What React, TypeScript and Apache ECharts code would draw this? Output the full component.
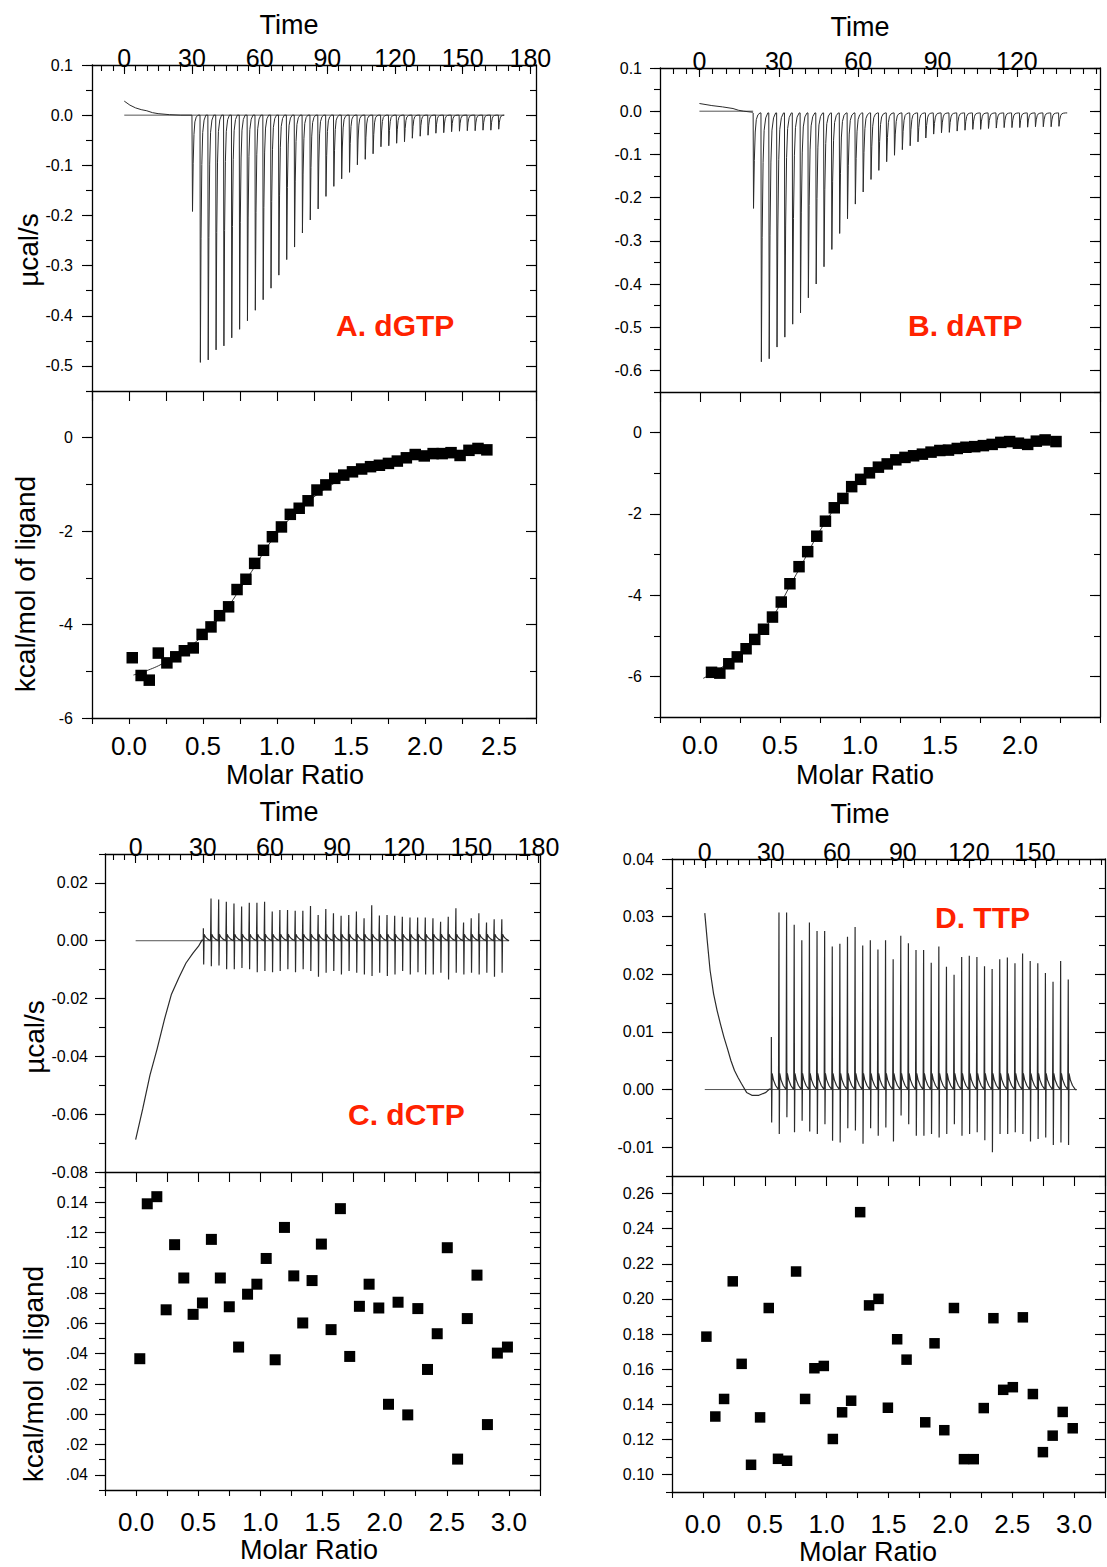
import React, { useEffect, useRef } from "react";
import * as echarts from "echarts";

// ---------------- DATA ----------------
// Panel A : dGTP
const A_PRE_T = [0, 2.5, 5, 7.5, 10, 12.5, 15, 20, 25, 30];
const A_PRE_V = [0.028, 0.02, 0.0145, 0.011, 0.0087, 0.005, 0.003, 0.001, 0, 0];
const A_INJ_T0 = 30.1;
const A_INJ_DT = 3.48;
const A_BASE = 0;
const A_END_T = 168;
const A_PEAKS = [-0.192, -0.493, -0.488, -0.468, -0.46, -0.444, -0.427, -0.41, -0.389, -0.368, -0.345, -0.319, -0.288, -0.263, -0.235, -0.209, -0.187, -0.162, -0.142, -0.127, -0.114, -0.099, -0.088, -0.077, -0.063, -0.061, -0.056, -0.053, -0.046, -0.042, -0.04, -0.036, -0.035, -0.033, -0.032, -0.031, -0.031, -0.03, -0.03, -0.028];
const A_RATIO = [0.022, 0.082, 0.137, 0.198, 0.256, 0.316, 0.374, 0.434, 0.494, 0.554, 0.612, 0.673, 0.73, 0.79, 0.849, 0.909, 0.969, 1.03, 1.09, 1.15, 1.21, 1.27, 1.33, 1.39, 1.451, 1.51, 1.572, 1.632, 1.692, 1.753, 1.813, 1.874, 1.934, 1.995, 2.055, 2.116, 2.176, 2.237, 2.297, 2.358, 2.418];
const A_HEAT = [-4.71, -5.09, -5.19, -4.61, -4.82, -4.69, -4.56, -4.5, -4.21, -4.05, -3.81, -3.62, -3.25, -3.03, -2.69, -2.41, -2.12, -1.91, -1.64, -1.51, -1.35, -1.12, -1.01, -0.87, -0.8, -0.73, -0.67, -0.62, -0.59, -0.55, -0.5, -0.43, -0.36, -0.39, -0.34, -0.34, -0.32, -0.38, -0.27, -0.23, -0.26];
const A_FIT_X = [0.03, 0.2, 0.4, 0.6, 0.8, 1.0, 1.2, 1.4, 1.6, 1.8, 2.0, 2.2, 2.43];
const A_FIT_Y = [-5.08, -4.88, -4.5, -3.9, -3.0, -2.05, -1.4, -0.95, -0.67, -0.5, -0.4, -0.33, -0.28];

// Panel B : dATP
const B_PRE_T = [0, 4.7, 8.7, 12.7, 14.7, 16.7, 20];
const B_PRE_V = [0.0178, 0.013, 0.01, 0.0062, 0.0023, 0, -0.0023];
const B_INJ_T0 = 20.3;
const B_INJ_DT = 2.96;
const B_BASE = -0.004;
const B_END_T = 139;
const B_PEAKS = [-0.225, -0.58, -0.573, -0.546, -0.523, -0.493, -0.467, -0.432, -0.4, -0.36, -0.32, -0.283, -0.249, -0.215, -0.187, -0.158, -0.137, -0.117, -0.102, -0.089, -0.08, -0.071, -0.062, -0.053, -0.05, -0.049, -0.046, -0.044, -0.042, -0.042, -0.04, -0.039, -0.038, -0.038, -0.038, -0.037, -0.036, -0.036, -0.036, -0.035];
const B_RATIO = [0.072, 0.124, 0.18, 0.233, 0.288, 0.342, 0.397, 0.453, 0.508, 0.562, 0.619, 0.673, 0.73, 0.784, 0.839, 0.893, 0.948, 1.004, 1.059, 1.115, 1.17, 1.224, 1.281, 1.335, 1.39, 1.444, 1.499, 1.553, 1.608, 1.662, 1.717, 1.771, 1.826, 1.88, 1.935, 1.99, 2.048, 2.102, 2.157, 2.225];
const B_HEAT = [-5.9, -5.92, -5.69, -5.52, -5.32, -5.09, -4.84, -4.54, -4.17, -3.72, -3.3, -2.93, -2.55, -2.18, -1.85, -1.62, -1.33, -1.15, -0.99, -0.85, -0.77, -0.67, -0.61, -0.57, -0.53, -0.48, -0.44, -0.43, -0.39, -0.36, -0.345, -0.32, -0.29, -0.24, -0.22, -0.26, -0.29, -0.21, -0.18, -0.22];
const B_FIT_X = [0.02, 0.2, 0.4, 0.6, 0.8, 1.0, 1.2, 1.4, 1.6, 1.8, 2.0, 2.24];
const B_FIT_Y = [-6.05, -5.6, -4.85, -3.5, -2.1, -1.15, -0.72, -0.52, -0.4, -0.32, -0.27, -0.23];

// Panel C : dCTP
const C_PRE_T = [0, 3.2, 6.4, 9.6, 12.9, 16, 19.3, 22.5, 25.7, 28.1, 29.7];
const C_PRE_V = [-0.0688, -0.058, -0.0465, -0.0374, -0.0271, -0.0185, -0.0128, -0.0077, -0.0042, -0.0019, 0.0003];
const C_INJ_T0 = 30.2;
const C_INJ_DT = 3.42;
const C_BUMP = 0.0022;
const C_END_T = 166;
const C_UP = [0.0043, 0.0146, 0.0143, 0.0135, 0.0129, 0.0118, 0.0131, 0.0131, 0.0135, 0.0101, 0.0106, 0.0106, 0.0104, 0.0104, 0.012, 0.0089, 0.011, 0.0095, 0.0086, 0.0089, 0.0101, 0.0078, 0.0123, 0.0087, 0.0089, 0.0086, 0.0083, 0.008, 0.008, 0.008, 0.0078, 0.0066, 0.0083, 0.0112, 0.0063, 0.0078, 0.0095, 0.0063, 0.0074, 0.0074];
const C_DOWN = [-0.0082, -0.0088, -0.0086, -0.0099, -0.0099, -0.0094, -0.0099, -0.0109, -0.0105, -0.0109, -0.0105, -0.0099, -0.0109, -0.0099, -0.0105, -0.0125, -0.0111, -0.0105, -0.0117, -0.0105, -0.0111, -0.0117, -0.0122, -0.0111, -0.0122, -0.0117, -0.0105, -0.0117, -0.0109, -0.0117, -0.0117, -0.0111, -0.0134, -0.0111, -0.0117, -0.0111, -0.0117, -0.0111, -0.0125, -0.0111];
const C_RATIO = [0.03, 0.09, 0.167, 0.242, 0.31, 0.384, 0.459, 0.534, 0.606, 0.678, 0.75, 0.825, 0.897, 0.972, 1.047, 1.119, 1.194, 1.269, 1.341, 1.416, 1.491, 1.569, 1.644, 1.719, 1.797, 1.875, 1.953, 2.031, 2.108, 2.186, 2.267, 2.345, 2.423, 2.504, 2.587, 2.665, 2.743, 2.827, 2.907, 2.988];
const C_HEAT = [0.0367, 0.139, 0.1437, 0.069, 0.112, 0.09, 0.066, 0.0735, 0.1155, 0.09, 0.071, 0.0444, 0.0793, 0.0859, 0.1029, 0.036, 0.1234, 0.0914, 0.0603, 0.0883, 0.1124, 0.0559, 0.1358, 0.0382, 0.0713, 0.0859, 0.0702, 0.0066, 0.074, -0.0004, 0.0698, 0.0296, 0.0532, 0.11, -0.0296, 0.0632, 0.0919, -0.0068, 0.0404, 0.0444];

// Panel D : TTP
const D_PRE_T = [0, 1.1, 2.4, 4, 5.6, 7.1, 8.7, 10.3, 11.9, 13.5, 15.1, 16.7, 19, 21.4, 24.6, 27.8, 29.4];
const D_PRE_V = [0.0306, 0.0259, 0.0207, 0.0166, 0.0137, 0.0114, 0.0091, 0.0071, 0.005, 0.0033, 0.0021, 0.001, -0.0005, -0.001, -0.001, -0.0005, 0.0001];
const D_INJ_T0 = 30.2;
const D_INJ_DT = 3.46;
const D_BUMP = 0.0028;
const D_END_T = 169;
const D_UP = [0.0091, 0.0307, 0.0307, 0.0286, 0.0259, 0.029, 0.0275, 0.0275, 0.0248, 0.0253, 0.0265, 0.0282, 0.025, 0.0259, 0.0243, 0.0259, 0.0226, 0.0267, 0.0254, 0.0242, 0.0242, 0.022, 0.0248, 0.0213, 0.0199, 0.023, 0.0232, 0.023, 0.0214, 0.0209, 0.0226, 0.0229, 0.0219, 0.0236, 0.0223, 0.0219, 0.0202, 0.0187, 0.0223, 0.0191];
const D_DOWN = [-0.0057, -0.0077, -0.0048, -0.0074, -0.0054, -0.0073, -0.0077, -0.006, -0.0089, -0.0092, -0.0067, -0.0071, -0.0094, -0.0067, -0.008, -0.0066, -0.009, -0.0045, -0.006, -0.008, -0.008, -0.0077, -0.0083, -0.0077, -0.006, -0.008, -0.0077, -0.0074, -0.0088, -0.0109, -0.0077, -0.0077, -0.0074, -0.0077, -0.009, -0.0086, -0.0083, -0.0096, -0.0092, -0.0096];
const D_RATIO = [0.028, 0.1, 0.171, 0.241, 0.313, 0.389, 0.462, 0.532, 0.607, 0.68, 0.753, 0.826, 0.901, 0.977, 1.05, 1.125, 1.198, 1.271, 1.343, 1.419, 1.495, 1.57, 1.646, 1.797, 1.872, 1.951, 2.029, 2.11, 2.189, 2.27, 2.348, 2.427, 2.505, 2.586, 2.667, 2.748, 2.827, 2.908, 2.989];
const D_HEAT = [0.1785, 0.133, 0.143, 0.21, 0.163, 0.1055, 0.1325, 0.1948, 0.1089, 0.1078, 0.2156, 0.143, 0.1605, 0.1618, 0.1202, 0.1354, 0.142, 0.2494, 0.1963, 0.2, 0.138, 0.177, 0.1654, 0.1297, 0.1747, 0.1252, 0.1948, 0.1087, 0.1087, 0.1378, 0.189, 0.1482, 0.1497, 0.1895, 0.1458, 0.1127, 0.1221, 0.1356, 0.1263];

// Tick labels
const A_TIME_LABELS = [0, 30, 60, 90, 120, 150, 180];
const B_TIME_LABELS = [0, 30, 60, 90, 120];
const C_TIME_LABELS = [0, 30, 60, 90, 120, 150, 180];
const D_TIME_LABELS = [0, 30, 60, 90, 120, 150];
const A_TOP_LABELS = [-0.5, -0.4, -0.3, -0.2, -0.1, 0, 0.1];
const B_TOP_LABELS = [-0.6, -0.5, -0.4, -0.3, -0.2, -0.1, 0, 0.1];
const C_TOP_LABELS = [-0.08, -0.06, -0.04, -0.02, 0, 0.02];
const D_TOP_LABELS = [-0.01, 0, 0.01, 0.02, 0.03, 0.04];
const A_BOT_LABELS = [-6, -4, -2, 0];
const B_BOT_LABELS = [-6, -4, -2, 0];
const C_BOT_LABELS = [-0.04, -0.02, 0, 0.02, 0.04, 0.06, 0.08, 0.1, 0.12, 0.14];
const C_BOT_TEXT = [".04", ".02", ".00", ".02", ".04", ".06", ".08", ".10", ".12", "0.14"];
const D_BOT_LABELS = [0.1, 0.12, 0.14, 0.16, 0.18, 0.2, 0.22, 0.24, 0.26];
const A_MOLAR_LABELS = [0, 0.5, 1, 1.5, 2, 2.5];
const B_MOLAR_LABELS = [0, 0.5, 1, 1.5, 2];
const C_MOLAR_LABELS = [0, 0.5, 1, 1.5, 2, 2.5, 3];
const D_MOLAR_LABELS = [0, 0.5, 1, 1.5, 2, 2.5, 3];

// ---------------- LAYOUT / STYLE ----------------
const FONT = "'Liberation Sans', Arial, Helvetica, sans-serif";
const INK = "#000";
const TRACE = "#2b2b2b";
const RED = "#ff2200";

function seq(a: number, b: number, step: number): number[] {
  const out: number[] = [];
  const n = Math.round((b - a) / step);
  for (let i = 0; i <= n; i++) out.push(+(a + i * step).toFixed(6));
  return out;
}

function endoTrace(preT: number[], preV: number[], t0: number, dt: number, peaks: number[], base: number, endT: number) {
  const pts: number[][] = preT.map((t, i) => [t, preV[i]]);
  peaks.forEach((p, i) => {
    const t = t0 + i * dt;
    const d = p - base;
    pts.push([t, base], [t + 0.15, p], [t + 0.45, base + 0.5 * d], [t + 0.8, base + 0.2 * d], [t + 1.2, base + 0.07 * d], [t + 1.8, base + 0.02 * d], [t + 2.6, base]);
  });
  pts.push([endT, base]);
  return pts;
}

function artifactTrace(preT: number[], preV: number[], t0: number, dt: number, ups: number[], downs: number[], bump: number, endT: number) {
  const pts: number[][] = preT.map((t, i) => [t, preV[i]]);
  ups.forEach((u, i) => {
    const t = t0 + i * dt;
    pts.push([t, 0], [t + 0.06, u], [t + 0.2, downs[i]], [t + 0.4, bump], [t + 1.0, 0.6 * bump], [t + 2.0, 0.25 * bump], [t + dt - 0.15, 0]);
  });
  pts.push([endT, 0]);
  return pts;
}

const zip = (xs: number[], ys: number[]) => xs.map((x, i) => [x, ys[i]]);

const fmt0 = (v: number) => String(Math.round(v));
const fmt1 = (v: number) => v.toFixed(1);
const fmt2 = (v: number) => v.toFixed(2);

const EXPERIMENTS = [
  {
    L: { left: 92, right: 536, top: 65, mid: 391, bottom: 718 },
    time: [-14.3, 182.5], timeLabels: A_TIME_LABELS,
    topY: [-0.55, 0.1], topLabels: A_TOP_LABELS, topMinor: seq(-0.55, 0.1, 0.05), topFmt: fmt1,
    molar: [-0.25, 2.75], molarLabels: A_MOLAR_LABELS, molarMargin: 15,
    botY: [-6, 1], botLabels: A_BOT_LABELS, botMinor: seq(-6, 1, 1), botFmt: fmt0,
    yMargin: 19, traceWidth: 1,
    trace: endoTrace(A_PRE_T, A_PRE_V, A_INJ_T0, A_INJ_DT, A_PEAKS, A_BASE, A_END_T),
    zeroEnd: A_END_T,
    points: zip(A_RATIO, A_HEAT), fit: zip(A_FIT_X, A_FIT_Y), symbolSize: 11.5,
  },
  {
    L: { left: 660, right: 1100, top: 68, mid: 392, bottom: 717 },
    time: [-14.9, 151.4], timeLabels: B_TIME_LABELS,
    topY: [-0.65, 0.1], topLabels: B_TOP_LABELS, topMinor: seq(-0.65, 0.1, 0.05), topFmt: fmt1,
    molar: [-0.25, 2.5], molarLabels: B_MOLAR_LABELS, molarMargin: 15,
    botY: [-7, 1], botLabels: B_BOT_LABELS, botMinor: seq(-7, 1, 1), botFmt: fmt0,
    yMargin: 18, traceWidth: 1,
    trace: endoTrace(B_PRE_T, B_PRE_V, B_INJ_T0, B_INJ_DT, B_PEAKS, B_BASE, B_END_T),
    zeroEnd: B_INJ_T0,
    points: zip(B_RATIO, B_HEAT), fit: zip(B_FIT_X, B_FIT_Y), symbolSize: 11.5,
  },
  {
    L: { left: 105, right: 540, top: 854, mid: 1172, bottom: 1490 },
    time: [-13.7, 180.7], timeLabels: C_TIME_LABELS,
    topY: [-0.08, 0.03], topLabels: C_TOP_LABELS, topMinor: seq(-0.08, 0.03, 0.01), topFmt: fmt2,
    molar: [-0.25, 3.25], molarLabels: C_MOLAR_LABELS, molarMargin: 19,
    botY: [-0.05, 0.16], botLabels: C_BOT_LABELS, botMinor: seq(-0.05, 0.16, 0.01),
    botFmt: (v: number) => {
      const i = C_BOT_LABELS.findIndex((c) => Math.abs(c - v) < 1e-6);
      return i >= 0 ? C_BOT_TEXT[i] : "";
    },
    yMargin: 17, traceWidth: 1.2,
    trace: artifactTrace(C_PRE_T, C_PRE_V, C_INJ_T0, C_INJ_DT, C_UP, C_DOWN, C_BUMP, C_END_T),
    zeroEnd: C_END_T,
    points: zip(C_RATIO, C_HEAT), fit: null, symbolSize: 11,
  },
  {
    L: { left: 672, right: 1105, top: 859, mid: 1176, bottom: 1492 },
    time: [-14.9, 181.9], timeLabels: D_TIME_LABELS,
    topY: [-0.015, 0.04], topLabels: D_TOP_LABELS, topMinor: seq(-0.015, 0.04, 0.005), topFmt: fmt2,
    molar: [-0.25, 3.25], molarLabels: D_MOLAR_LABELS, molarMargin: 19,
    botY: [0.09, 0.27], botLabels: D_BOT_LABELS, botMinor: seq(0.09, 0.27, 0.01), botFmt: fmt2,
    yMargin: 18, traceWidth: 1.2,
    trace: artifactTrace(D_PRE_T, D_PRE_V, D_INJ_T0, D_INJ_DT, D_UP, D_DOWN, D_BUMP, D_END_T),
    zeroEnd: D_END_T,
    points: zip(D_RATIO, D_HEAT), fit: null, symbolSize: 10.5,
  },
];

const TEXTS = [
  { text: "Time", x: 289, y: 25, size: 27, rot: 0 },
  { text: "Time", x: 860, y: 27, size: 27, rot: 0 },
  { text: "Time", x: 289, y: 812, size: 27, rot: 0 },
  { text: "Time", x: 860, y: 814, size: 27, rot: 0 },
  { text: "Molar Ratio", x: 295, y: 775, size: 27, rot: 0 },
  { text: "Molar Ratio", x: 865, y: 775, size: 27, rot: 0 },
  { text: "Molar Ratio", x: 309, y: 1550, size: 27, rot: 0 },
  { text: "Molar Ratio", x: 868, y: 1552, size: 27, rot: 0 },
  { text: "µcal/s", x: 28, y: 250, size: 28, rot: Math.PI / 2 },
  { text: "kcal/mol of ligand", x: 25, y: 584, size: 28, rot: Math.PI / 2 },
  { text: "µcal/s", x: 34, y: 1037, size: 28, rot: Math.PI / 2 },
  { text: "kcal/mol of ligand", x: 33, y: 1374, size: 28, rot: Math.PI / 2 },
];

const PANEL_TITLES = [
  { text: "A. dGTP", x: 336, y: 325 },
  { text: "B. dATP", x: 908, y: 325 },
  { text: "C. dCTP", x: 348, y: 1114 },
  { text: "D. TTP", x: 935, y: 917 },
];

// ---------------- OPTION BUILDER ----------------
function buildOption() {
  const grid: any[] = [];
  const xAxis: any[] = [];
  const yAxis: any[] = [];
  const series: any[] = [];

  const base = (gi: number, position: string, range: number[]) => ({
    type: "value",
    gridIndex: gi,
    position,
    min: range[0],
    max: range[1],
    splitLine: { show: false },
    minorTick: { show: false },
    axisLine: { show: false, onZero: false },
    axisTick: { show: false },
    axisLabel: { show: false },
    axisPointer: { show: false },
    silent: true,
  });
  const ticked = (a: any, values: number[], inside: boolean, length: number, line: boolean) => {
    a.axisTick = { show: true, inside, length, customValues: values, lineStyle: { color: INK, width: 1.1 } };
    if (line) a.axisLine = { show: true, onZero: false, lineStyle: { color: INK, width: 1.3 } };
    return a;
  };
  const labelled = (a: any, values: number[], formatter: any, margin: number, fontSize: number) => {
    a.axisLabel = { show: true, customValues: values, formatter, margin, fontSize, color: INK, fontFamily: FONT };
    return a;
  };
  const pushX = (a: any) => (xAxis.push(a), xAxis.length - 1);
  const pushY = (a: any) => (yAxis.push(a), yAxis.length - 1);

  EXPERIMENTS.forEach((E) => {
    const { L } = E;
    const w = L.right - L.left;
    // ----- top grid (raw thermogram)
    grid.push({ left: L.left, top: L.top, width: w, height: L.mid - L.top });
    const gt = grid.length - 1;
    const timeMinor = seq(-10, Math.floor(E.time[1] / 5) * 5, 5);
    const xt = pushX(labelled(ticked(base(gt, "top", E.time), E.timeLabels, true, 9, true), E.timeLabels, (v: number) => String(v), -5, 25));
    pushX(ticked(base(gt, "top", E.time), timeMinor, true, 6, false));
    const yt = pushY(labelled(ticked(base(gt, "left", E.topY), E.topLabels, false, 10, true), E.topLabels, E.topFmt, E.yMargin, 16));
    pushY(ticked(base(gt, "left", E.topY), E.topMinor, false, 6, false));
    pushY(ticked(base(gt, "right", E.topY), E.topLabels, true, 10, true));
    pushY(ticked(base(gt, "right", E.topY), E.topMinor, true, 6, false));

    series.push({
      type: "line", xAxisIndex: xt, yAxisIndex: yt, data: [[0, 0], [E.zeroEnd, 0]],
      showSymbol: false, silent: true, lineStyle: { color: "#555", width: 1 }, z: 2,
    });
    series.push({
      type: "line", xAxisIndex: xt, yAxisIndex: yt, data: E.trace,
      showSymbol: false, silent: true, lineStyle: { color: TRACE, width: E.traceWidth }, z: 3,
    });

    // ----- bottom grid (integrated heats)
    grid.push({ left: L.left, top: L.mid, width: w, height: L.bottom - L.mid });
    const gb = grid.length - 1;
    const quarters = seq(-0.25, E.molar[1], 0.25);
    const xb = pushX(labelled(ticked(base(gb, "bottom", E.molar), quarters, false, 6, true), E.molarLabels, fmt1, E.molarMargin, 26));
    pushX(ticked(base(gb, "top", E.molar), quarters, true, 10, true));
    const yb = pushY(labelled(ticked(base(gb, "left", E.botY), E.botLabels, false, 10, true), E.botLabels, E.botFmt, E.yMargin, 16));
    pushY(ticked(base(gb, "left", E.botY), E.botMinor, false, 6, false));
    pushY(ticked(base(gb, "right", E.botY), E.botLabels, true, 10, true));
    pushY(ticked(base(gb, "right", E.botY), E.botMinor, true, 6, false));

    if (E.fit) {
      series.push({
        type: "line", xAxisIndex: xb, yAxisIndex: yb, data: E.fit, smooth: 0.4,
        showSymbol: false, silent: true, lineStyle: { color: "#333", width: 1 }, z: 2,
      });
    }
    series.push({
      type: "scatter", xAxisIndex: xb, yAxisIndex: yb, data: E.points,
      symbol: "rect", symbolSize: E.symbolSize, silent: true,
      itemStyle: { color: "#000", opacity: 1 }, z: 3,
    });
  });

  const graphic: any[] = [];
  TEXTS.forEach((t) => {
    graphic.push({
      type: "text", x: t.x, y: t.y, rotation: t.rot, silent: true,
      style: { text: t.text, fontSize: t.size, fontFamily: FONT, fill: INK, align: "center", verticalAlign: "middle" },
    });
  });
  PANEL_TITLES.forEach((t) => {
    graphic.push({
      type: "text", x: t.x, y: t.y, silent: true,
      style: { text: t.text, fontSize: 30, fontWeight: "bold", fontFamily: FONT, fill: RED, align: "left", verticalAlign: "middle" },
    });
  });

  return {
    animation: false,
    backgroundColor: "#fff",
    grid,
    xAxis,
    yAxis,
    series,
    graphic,
  };
}

export default function App() {
  const ref = useRef<HTMLDivElement>(null);
  useEffect(() => {
    if (!ref.current) return;
    const chart = echarts.init(ref.current, undefined, { renderer: "svg" });
    chart.setOption(buildOption() as any);
    return () => chart.dispose();
  }, []);
  return (
    <div
      ref={ref}
      style={{ position: "absolute", left: 0, top: 0, width: 1107, height: 1567, background: "#fff" }}
    />
  );
}
